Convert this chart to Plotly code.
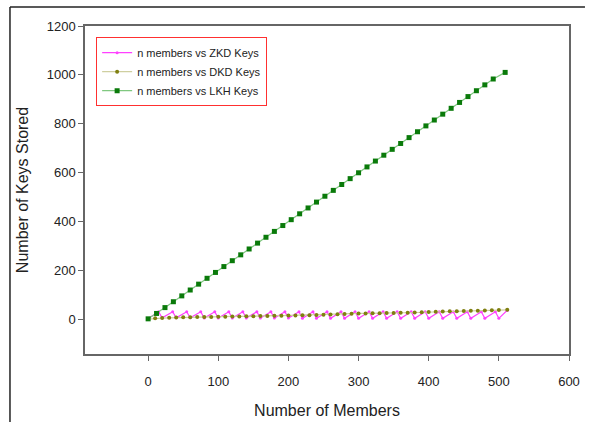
import plotly.graph_objects as go

# ZKD keys (sawtooth)
zkd_x = [0, 15, 20, 35, 40, 55, 60, 75, 80, 95, 100, 115, 120, 135, 140, 155, 160, 175, 180, 195,
         200, 215, 220, 235, 240, 255, 260, 275, 280, 295, 300, 315, 320, 335, 340, 355, 360, 375,
         380, 395, 400, 415, 420, 435, 440, 455, 460, 475, 480, 495, 500, 512]
zkd_y = [2, 30, 5, 30, 5, 30, 5, 30, 4, 30, 4, 30, 4, 30, 4, 30, 4, 30, 4, 30,
         4, 30, 3, 30, 3, 30, 3, 30, 3, 30, 3, 30, 3, 30, 3, 30, 3, 30,
         3, 30, 3, 30, 3, 30, 3, 30, 3, 30, 3, 30, 3, 36]

# DKD keys (slowly rising)
dkd_x = [0, 10, 20, 30, 40, 50, 60, 70, 80, 90, 100, 110, 120, 130, 140, 150, 160, 170, 180, 190,
         200, 210, 220, 230, 240, 250, 260, 270, 280, 290, 300, 310, 320, 330, 340, 350, 360, 370,
         380, 390, 400, 410, 420, 430, 440, 450, 460, 470, 480, 490, 500, 512]
dkd_y = [0, 3, 4, 5, 6, 7, 7, 8, 8, 9, 10, 10, 11, 11, 12, 12, 13, 13, 14, 14,
         15, 15, 16, 16, 17, 18, 19, 20, 21, 22, 23, 23, 24, 24, 25, 25, 26, 26,
         27, 28, 29, 30, 31, 32, 32, 33, 34, 34, 35, 36, 37, 38]

# LKH keys (linear)
lkh_x = [0, 12, 24, 36, 48, 60, 72, 84, 96, 108, 120, 132, 144, 156, 168, 180, 192, 204, 216, 228,
         240, 252, 264, 276, 288, 300, 312, 324, 336, 348, 360, 372, 384, 396, 408, 420, 432, 444,
         456, 468, 480, 492, 509]
lkh_y = [1, 23, 47, 71, 95, 119, 143, 167, 191, 215, 239, 263, 287, 311, 335, 359, 383, 407, 431, 455,
         479, 503, 527, 551, 575, 599, 623, 647, 671, 695, 719, 743, 767, 791, 815, 839, 863, 887,
         911, 935, 959, 983, 1010]

x_ticks = [0, 100, 200, 300, 400, 500, 600]
y_ticks = [0, 200, 400, 600, 800, 1000, 1200]

fig = go.Figure()
fig.add_trace(go.Scatter(x=zkd_x, y=zkd_y, mode="lines+markers", name="n members vs ZKD Keys",
                         line=dict(color="#FF40FF", width=1.2),
                         marker=dict(color="#FF40FF", size=3, symbol="circle")))
fig.add_trace(go.Scatter(x=dkd_x, y=dkd_y, mode="lines+markers", name="n members vs DKD Keys",
                         line=dict(color="#CFCFA0", width=1.2),
                         marker=dict(color="#7F7F10", size=4, symbol="circle")))
fig.add_trace(go.Scatter(x=lkh_x, y=lkh_y, mode="lines+markers", name="n members vs LKH Keys",
                         line=dict(color="#80C880", width=1.2),
                         marker=dict(color="#0A7A0A", size=5, symbol="square",
                                     line=dict(color="#0A7A0A", width=0))))

axis_common = dict(showgrid=False, zeroline=False, showline=True, linecolor="#666666", linewidth=1.5,
                   mirror=True, ticks="outside", ticklen=5, tickcolor="#666666", tickwidth=1,
                   automargin=False,
                   tickfont=dict(family="Liberation Sans, Arial", size=13, color="#222222"))

fig.update_layout(
    width=590, height=422,
    margin=dict(l=85, r=21, t=26, b=68),
    paper_bgcolor="white", plot_bgcolor="white",
    xaxis=dict(range=[-90, 600], tickvals=x_ticks, ticklabelstandoff=10,
               title=dict(text="Number of Members", standoff=16,
                          font=dict(family="Liberation Sans, Arial", size=16, color="#222222")),
               **axis_common),
    yaxis=dict(range=[-143, 1200], tickvals=y_ticks,
               title=dict(text="Number of Keys Stored", standoff=14,
                          font=dict(family="Liberation Sans, Arial", size=16, color="#222222")),
               **axis_common),
    legend=dict(x=0.023, y=0.966, xanchor="left", yanchor="top",
                bordercolor="#FF3030", borderwidth=1, bgcolor="white",
                font=dict(family="Liberation Sans, Arial", size=11, color="#222222"),
                tracegroupgap=0, itemwidth=30),
    showlegend=True,
    shapes=[
        dict(type="line", xref="paper", yref="paper", x0=-0.155, x1=-0.155, y0=1.058, y1=-0.21,
             line=dict(color="#222222", width=1.5)),
        dict(type="line", xref="paper", yref="paper", x0=-0.155, x1=1.033, y0=1.058, y1=1.058,
             line=dict(color="#222222", width=1.5)),
    ],
)

fig.write_html("out.html")
